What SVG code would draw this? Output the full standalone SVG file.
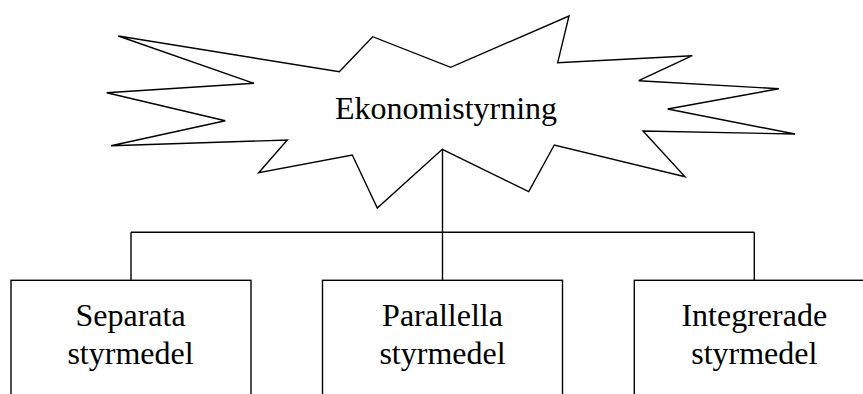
<svg xmlns="http://www.w3.org/2000/svg" width="863" height="394" viewBox="0 0 863 394">
  <style>
    .shape { fill: #ffffff; stroke: #000000; stroke-width: 1.4; stroke-linejoin: miter; }
    .wire { fill: none; stroke: #000000; stroke-width: 1.4; }
    .label { font-family: "Liberation Serif", "Times New Roman", serif; font-size: 32px; fill: #000000; text-anchor: middle; }
  </style>
  <rect width="863" height="394" fill="#ffffff"/>

  <!-- connectors: trunk from the burst down to a bus, then drops to each box -->
  <g id="connectors">
    <path class="wire" d="M442.5,149.3 V280.3"/>
    <path class="wire" d="M131,232.3 H754.3"/>
    <path class="wire" d="M131,232.3 V280.3"/>
    <path class="wire" d="M754.3,232.3 V280.3"/>
  </g>

  <!-- root: explosion burst -->
  <g id="ekonomistyrning">
    <polygon class="shape" points="118.3,36 339.3,71.7 372.7,36.7 450.7,67.3 569,16 557.7,62.7 692.3,55.7 638.7,80.7 779,88.7 667.7,109 795,134 643,131 685,176.7 554.3,145 528.7,191.7 442.3,149.3 377.3,208 352.3,155 258.7,172.7 287.3,140 111,145.7 225.3,120.7 106.7,92.7 254,83.3"/>
    <text class="label" x="446" y="118.5">Ekonomistyrning</text>
  </g>

  <g id="separata">
    <rect class="shape" x="11" y="280.3" width="240" height="130"/>
    <text class="label" x="130.5" y="326">Separata</text>
    <text class="label" x="130.5" y="364">styrmedel</text>
  </g>

  <g id="parallella">
    <rect class="shape" x="322.5" y="280.3" width="240" height="130"/>
    <text class="label" x="442.5" y="326">Parallella</text>
    <text class="label" x="442.5" y="364">styrmedel</text>
  </g>

  <g id="integrerade">
    <rect class="shape" x="634.3" y="280.3" width="240" height="130"/>
    <text class="label" x="754.3" y="326">Integrerade</text>
    <text class="label" x="754.3" y="364">styrmedel</text>
  </g>
</svg>
